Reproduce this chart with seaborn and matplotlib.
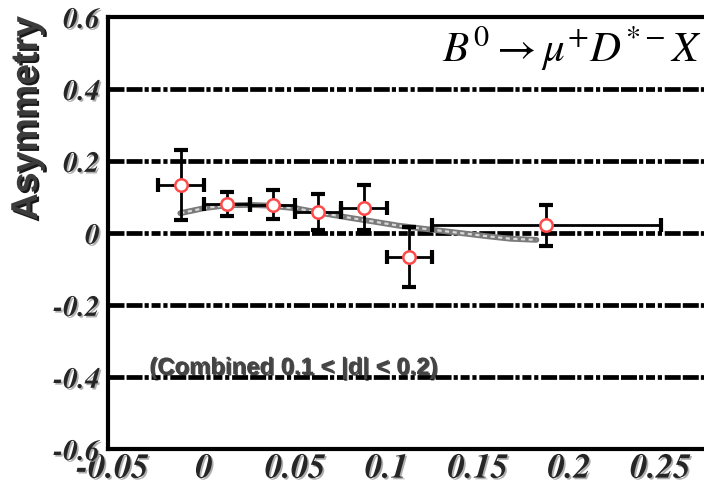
import numpy as np
import pandas as pd
import matplotlib
matplotlib.use("Agg")
import matplotlib.pyplot as plt
import matplotlib.patheffects as pe
from matplotlib.ticker import MultipleLocator
import seaborn as sns

# ---- data ----
x_centers = [-0.0125, 0.0125, 0.0375, 0.0625, 0.0875, 0.1125, 0.1875]
x_halfwidth = [0.0125, 0.0125, 0.0125, 0.0125, 0.0125, 0.0125, 0.0625]
asym = [0.1325, 0.081, 0.079, 0.057, 0.070, -0.066, 0.021]
asym_err = [0.097, 0.034, 0.040, 0.050, 0.062, 0.083, 0.058]

fit_x = [-0.013, 0.0, 0.0125, 0.025, 0.036, 0.051, 0.0635, 0.08, 0.0925,
         0.107, 0.12, 0.142, 0.155, 0.168, 0.182]
fit_y = [0.055, 0.069, 0.077, 0.078, 0.076, 0.068, 0.056, 0.042, 0.032,
         0.020, 0.012, -0.001, -0.009, -0.016, -0.019]

grid_levels = [0.4, 0.2, 0.0, -0.2, -0.4]
xtick_vals = [-0.05, 0.0, 0.05, 0.1, 0.15, 0.2, 0.25]
xtick_labels = ["-0.05", "0", "0.05", "0.1", "0.15", "0.2", "0.25"]
ytick_vals = [-0.6, -0.4, -0.2, 0.0, 0.2, 0.4, 0.6]
ytick_labels = ["-0.6", "-0.4", "-0.2", "0", "0.2", "0.4", "0.6"]

y_label = "Asymmetry"
note_text = "(Combined 0.1 < |d| < 0.2)"
decay_text = r"$B^0 \rightarrow \mu^{+} D^{*-} X$"

# ---- style ----
sns.set_style("white")
plt.rcParams["lines.scale_dashes"] = False
plt.rcParams["mathtext.fontset"] = "stix"

W, H = 704, 492
fig = plt.figure(figsize=(W / 100, H / 100), dpi=100)
ax_left, ax_right, ax_top, ax_bottom = 108, 704, 17, 449
ax = fig.add_axes([ax_left / W, 1 - ax_bottom / H,
                   (ax_right - ax_left) / W, (ax_bottom - ax_top) / H])

# dash-dot horizontal reference lines
dash_pattern = (0, (11.5, 1.5, 11.5, 1.5, 3.0, 2.0, 6.5, 2.0, 3.0, 2.0))
for lvl in grid_levels:
    ax.axhline(lvl, color="black", lw=3.4, linestyle=dash_pattern, zorder=1)

# fit curve (grey band with light dashes)
fit_df = pd.DataFrame({"x": fit_x, "y": fit_y})
sns.lineplot(data=fit_df, x="x", y="y", ax=ax, color="#7a7a7a", lw=4.2,
             sort=False, zorder=2)
ax.plot(fit_x, fit_y, color="#d8d8d8", lw=1.6, linestyle=(0, (3, 2.5)), zorder=2.1)

# data points with error bars
ax.errorbar(x_centers, asym, xerr=x_halfwidth, yerr=asym_err, fmt="none",
            ecolor="black", elinewidth=2.0, capsize=4.7, capthick=3.0, zorder=3)
pts_df = pd.DataFrame({"x": x_centers, "y": asym})
sns.scatterplot(data=pts_df, x="x", y="y", ax=ax, marker="o", s=80,
                facecolor="white", edgecolor="#ff4a4a", linewidth=1.8, zorder=4)

ax.set_xlim(-0.0526, 0.2738)
ax.set_ylim(-0.6, 0.6)

# spines
for side in ["left", "bottom", "top"]:
    ax.spines[side].set_visible(True)
    ax.spines[side].set_linewidth(3.0)
    ax.spines[side].set_color("black")
ax.spines["right"].set_visible(False)

# ticks
tick_font = "STIXGeneral"
ax.set_xticks(xtick_vals)
ax.set_xticklabels(xtick_labels, fontsize=25, fontweight="bold", fontstyle="italic",
                   family=tick_font)
ax.set_yticks(ytick_vals)
ax.set_yticklabels(ytick_labels, fontsize=21, fontweight="bold", fontstyle="italic",
                   family=tick_font)
ax.xaxis.set_minor_locator(MultipleLocator(0.01))
ax.yaxis.set_minor_locator(MultipleLocator(0.05))
ax.tick_params(axis="both", which="both", direction="in", color="black",
               top=False, right=False)
ax.tick_params(axis="both", which="major", length=12, width=2.2)
ax.tick_params(axis="both", which="minor", length=6.5, width=2.2)
ax.tick_params(axis="x", which="major", pad=3)
ax.tick_params(axis="y", which="major", pad=6)

shadow = [pe.withSimplePatchShadow(offset=(1.2, -1.2), shadow_rgbFace="#9a9a9a", alpha=0.8)]
for lab in ax.get_xticklabels() + ax.get_yticklabels():
    lab.set_path_effects(shadow)

ax.set_xlabel("")
ax.set_ylabel("")

fig.text(27 / W, 1 - 118 / H, y_label, rotation=90, ha="center", va="center",
         fontsize=27, fontweight="bold", family="Liberation Sans", color="#3c3c3c",
         path_effects=[pe.withSimplePatchShadow(offset=(1.5, -1.5),
                                                shadow_rgbFace="black", alpha=0.9)])

ax.text(-0.0300, -0.392, note_text, ha="left", va="baseline", fontsize=17.2,
        fontweight="bold", family="Liberation Sans", color="#444444", zorder=5,
        path_effects=[pe.withSimplePatchShadow(offset=(1, -1),
                                               shadow_rgbFace="black", alpha=0.7)])

fig.text(572 / W, 1 - 62 / H, decay_text, ha="center", va="baseline",
         fontsize=31, color="black")

fig.savefig("out.png", dpi=100)
